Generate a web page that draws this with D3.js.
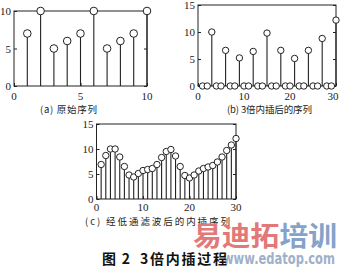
<!DOCTYPE html>
<html>
<head>
  <meta charset="utf-8">
  <title></title>
  <style>
    body,html{ margin:0; padding:0; background:#fff; }
    svg{ display:block; }
    .num{ font-family:"Liberation Serif","DejaVu Serif",serif; font-size:11px; fill:#222; }
    .cap{ font-family:"Noto Sans CJK SC",sans-serif; font-size:9.5px; fill:#222; }
  </style>
</head>
<body>
  <div id="container"></div>
  <script src="https://d3js.org/d3.v7.min.js"></script>
  <script type="text/javascript">

    // (a) original sequence
    var xa = [1, 2, 3, 4, 5, 6, 7, 8, 9, 10];
    var ya = [7, 10, 5, 6, 7, 10, 5, 6, 7, 10];

    // (b) after 3x zero insertion
    var xb = [1, 2, 3, 4, 5, 6, 7, 8, 9, 10, 11, 12, 13, 14, 15, 16, 17, 18, 19, 20, 21, 22, 23, 24, 25, 26, 27, 28, 29, 30];
    var yb = [0, 0, 10, 0, 0, 6.6, 0, 0, 5.2, 0, 0, 6.4, 0, 0, 9.8, 0, 0, 6.6, 0, 0, 5.1, 0, 0, 6.6, 0, 0, 8.8, 0, 0, 12.2];

    // (c) after low pass filtering
    var xc = xb;
    var yc = [6.9, 8.7, 10, 10, 8.4, 6.5, 4.8, 4.4, 5.1, 5.7, 5.9, 6.1, 6.9, 8.3, 9.5, 9.9, 8.6, 6.5, 4.7, 4.2, 4.8, 5.6, 6.1, 6.4, 6.7, 7.4, 8.4, 9.7, 10.8, 12.1];

    var ticksA = [0, 5, 10];
    var ticksB = [0, 10, 20, 30];
    var ticksYB = [0, 5, 10, 15];

    var captions = ['(a)  原始序列', '(b) 3倍内插后的序列', '(c)  经低通滤波后的内插序列'];
    var title1 = '图2', title2 = '3倍内插过程';

    var svg = d3.select('#container').append('svg').attr('width', 340).attr('height', 270);
    var ink = '#222';

    function panel(o){
      var x = d3.scaleLinear().domain(o.xd).range([o.l, o.r]);
      var y = d3.scaleLinear().domain(o.yd).range([o.b, o.t]);
      var g = svg.append('g');

      // box
      g.append('rect').attr('x', o.l).attr('y', o.t).attr('width', o.r - o.l).attr('height', o.b - o.t)
        .attr('fill', 'none').attr('stroke', ink).attr('stroke-width', 1);

      // inner ticks
      var ax = d3.axisBottom(x).tickValues(o.xt).tickSizeInner(-3).tickSizeOuter(0).tickFormat('');
      var ay = d3.axisLeft(y).tickValues(o.yt).tickSizeInner(-3).tickSizeOuter(0).tickFormat('');
      var ar = d3.axisRight(y).tickValues(o.yt).tickSizeInner(-3).tickSizeOuter(0).tickFormat('');
      [g.append('g').attr('transform', 'translate(0,' + o.b + ')').call(ax),
       g.append('g').attr('transform', 'translate(' + o.l + ',0)').call(ay),
       g.append('g').attr('transform', 'translate(' + o.r + ',0)').call(ar)].forEach(function(a){
        a.select('.domain').remove();
        a.selectAll('line').attr('stroke', ink);
      });

      // tick labels
      g.selectAll('.xl').data(o.xt).enter().append('text').attr('class', 'num')
        .attr('x', function(d){ return Math.min(x(d), 333); }).attr('y', o.b + o.lo)
        .attr('text-anchor', 'middle').text(function(d){ return d; });
      g.selectAll('.yl').data(o.yt).enter().append('text').attr('class', 'num')
        .attr('x', o.l - 3).attr('y', function(d){ return y(d) + 4; }).attr('text-anchor', 'end').text(function(d){ return d; });

      // stems
      var pts = o.xs.map(function(d, i){ return [d, o.ys[i]]; });
      g.selectAll('.stem').data(pts).enter().append('line')
        .attr('x1', function(d){ return x(d[0]); }).attr('x2', function(d){ return x(d[0]); })
        .attr('y1', y(0)).attr('y2', function(d){ return y(d[1]); })
        .attr('stroke', ink).attr('stroke-width', 1.1);
      g.selectAll('.dot').data(pts).enter().append('circle')
        .attr('cx', function(d){ return x(d[0]); }).attr('cy', function(d){ return y(d[1]); })
        .attr('r', o.rad).attr('fill', '#fff').attr('stroke', ink).attr('stroke-width', 1);

      svg.append('text').attr('class', 'cap').attr('x', o.cx).attr('y', o.cy)
        .attr('textLength', o.cw).attr('lengthAdjust', 'spacing').text(o.cap);
    }

    panel({ l:14, r:147, t:11, b:86, xd:[0,10], yd:[0,10], xt:ticksA, yt:ticksA, lo:14,
      xs:xa, ys:ya, rad:3.8, cap:captions[0], cx:40, cy:113, cw:57 });
    panel({ l:198, r:336, t:5, b:86, xd:[0,30], yd:[0,15], xt:ticksB, yt:ticksYB, lo:14,
      xs:xb, ys:yb, rad:3.2, cap:captions[1], cx:227, cy:113, cw:85 });
    panel({ l:96.5, r:236, t:124, b:199, xd:[0,30], yd:[0,15], xt:ticksB, yt:ticksYB, lo:12,
      xs:xc, ys:yc, rad:3.2, cap:captions[2], cx:85, cy:225, cw:145 });

    // watermark
    svg.append('text').attr('x', 193).attr('y', 246).attr('textLength', 144).attr('lengthAdjust', 'spacingAndGlyphs')
      .style('font-family', '"Noto Sans CJK SC",sans-serif').style('font-size', '27px').style('font-weight', 'bold')
      .selectAll('tspan').data([['易迪拓', '#e27878'], ['培训', '#85a3c9']]).enter().append('tspan')
      .attr('fill', function(d){ return d[1]; }).text(function(d){ return d[0]; });
    svg.append('text').attr('x', 223).attr('y', 264).attr('textLength', 112).attr('lengthAdjust', 'spacingAndGlyphs')
      .style('font-family', '"DejaVu Sans",sans-serif').style('font-size', '16px').style('font-weight', 'bold')
      .attr('fill', '#9fb0c8').text('www.edatop.com');

    svg.append('text').attr('x', 102).attr('y', 264).attr('textLength', 28)
      .style('font-family', '"Noto Sans CJK SC",sans-serif').style('font-size', '14px').style('font-weight', 'bold')
      .attr('fill', '#111').text(title1);
    svg.append('text').attr('x', 140).attr('y', 264).attr('textLength', 87).attr('lengthAdjust', 'spacing')
      .style('font-family', '"Noto Sans CJK SC",sans-serif').style('font-size', '14px').style('font-weight', 'bold')
      .attr('fill', '#111').text(title2);

  </script>
</body>
</html>
